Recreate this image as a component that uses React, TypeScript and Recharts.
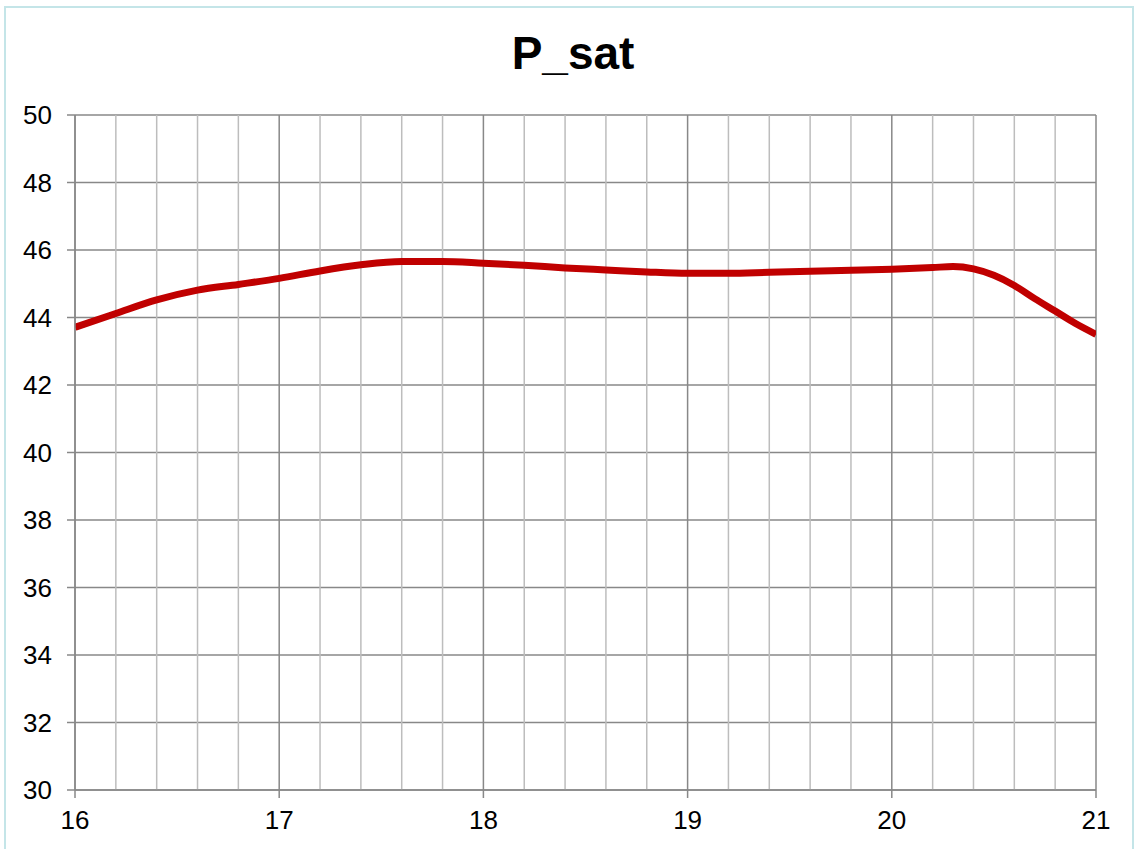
import React from "react";
import { LineChart, Line, XAxis, YAxis, CartesianGrid, ReferenceLine } from "recharts";

const xValues = [16, 16.2, 16.4, 16.6, 16.8, 17, 17.2, 17.4, 17.6, 17.8, 18, 18.2, 18.4, 18.6, 18.8, 19, 19.2, 19.4, 19.6, 19.8, 20, 20.2, 20.3, 20.4, 20.5, 20.6, 20.7, 20.8, 20.9, 21];
const pSat = [43.71, 44.12, 44.52, 44.81, 44.98, 45.16, 45.38, 45.56, 45.66, 45.66, 45.61, 45.55, 45.47, 45.41, 45.35, 45.31, 45.31, 45.34, 45.37, 45.40, 45.43, 45.48, 45.51, 45.44, 45.25, 44.95, 44.56, 44.19, 43.82, 43.5];
const xTicks = [16, 17, 18, 19, 20, 21];
const yTicks = [30, 32, 34, 36, 38, 40, 42, 44, 46, 48, 50];
const minorX = [16.2, 16.4, 16.6, 16.8, 17.2, 17.4, 17.6, 17.8, 18.2, 18.4, 18.6, 18.8, 19.2, 19.4, 19.6, 19.8, 20.2, 20.4, 20.6, 20.8];
const title = "P_sat";

const data = xValues.map((x, i) => ({ x, y: pSat[i] }));

const FONT = "'Liberation Sans', Arial, sans-serif";

export default function App() {
  return (
    <div style={{ position: "relative", width: 1136, height: 849, background: "#fff", overflow: "hidden" }}>
      <style>{`body{margin:0;}`}</style>
      <div
        style={{
          position: "absolute",
          left: 4,
          top: 6,
          width: 1130,
          height: 850,
          border: "2px solid #c4e5e8",
          boxSizing: "border-box",
        }}
      />
      <div
        style={{
          position: "absolute",
          left: 0,
          top: 23,
          width: 1146,
          textAlign: "center",
          fontFamily: FONT,
          fontWeight: "bold",
          fontSize: 46,
          color: "#000",
          lineHeight: "60px",
        }}
      >
        {title}
      </div>
      <div style={{ position: "absolute", left: 0, top: 0 }}>
        <LineChart width={1136} height={849} data={data} margin={{ top: 115, right: 40, bottom: 19, left: 15 }}>
          <CartesianGrid stroke="#888888" strokeWidth={1.5} horizontal={true} vertical={true} />
          {minorX.map((v) => (
            <ReferenceLine key={v} x={v} stroke="#bdbdbd" strokeWidth={1.5} ifOverflow="hidden" />
          ))}
          <XAxis
            dataKey="x"
            type="number"
            domain={[16, 21]}
            ticks={xTicks}
            allowDataOverflow
            height={40}
            tickSize={8}
            tickMargin={13}
            stroke="#888888"
            strokeWidth={1.5}
            tick={{ fill: "#000", fontSize: 26, fontFamily: FONT }}
            tickLine={{ stroke: "#888888", strokeWidth: 1.5 }}
          />
          <YAxis
            type="number"
            domain={[30, 50]}
            ticks={yTicks}
            allowDataOverflow
            width={60}
            tickSize={8}
            tickMargin={15}
            stroke="#888888"
            strokeWidth={1.5}
            tick={{ fill: "#000", fontSize: 26, fontFamily: FONT }}
            tickLine={{ stroke: "#888888", strokeWidth: 1.5 }}
          />
          <Line
            type="monotone"
            dataKey="y"
            stroke="#c00000"
            strokeWidth={7}
            dot={false}
            activeDot={false}
            isAnimationActive={false}
          />
        </LineChart>
      </div>
    </div>
  );
}
